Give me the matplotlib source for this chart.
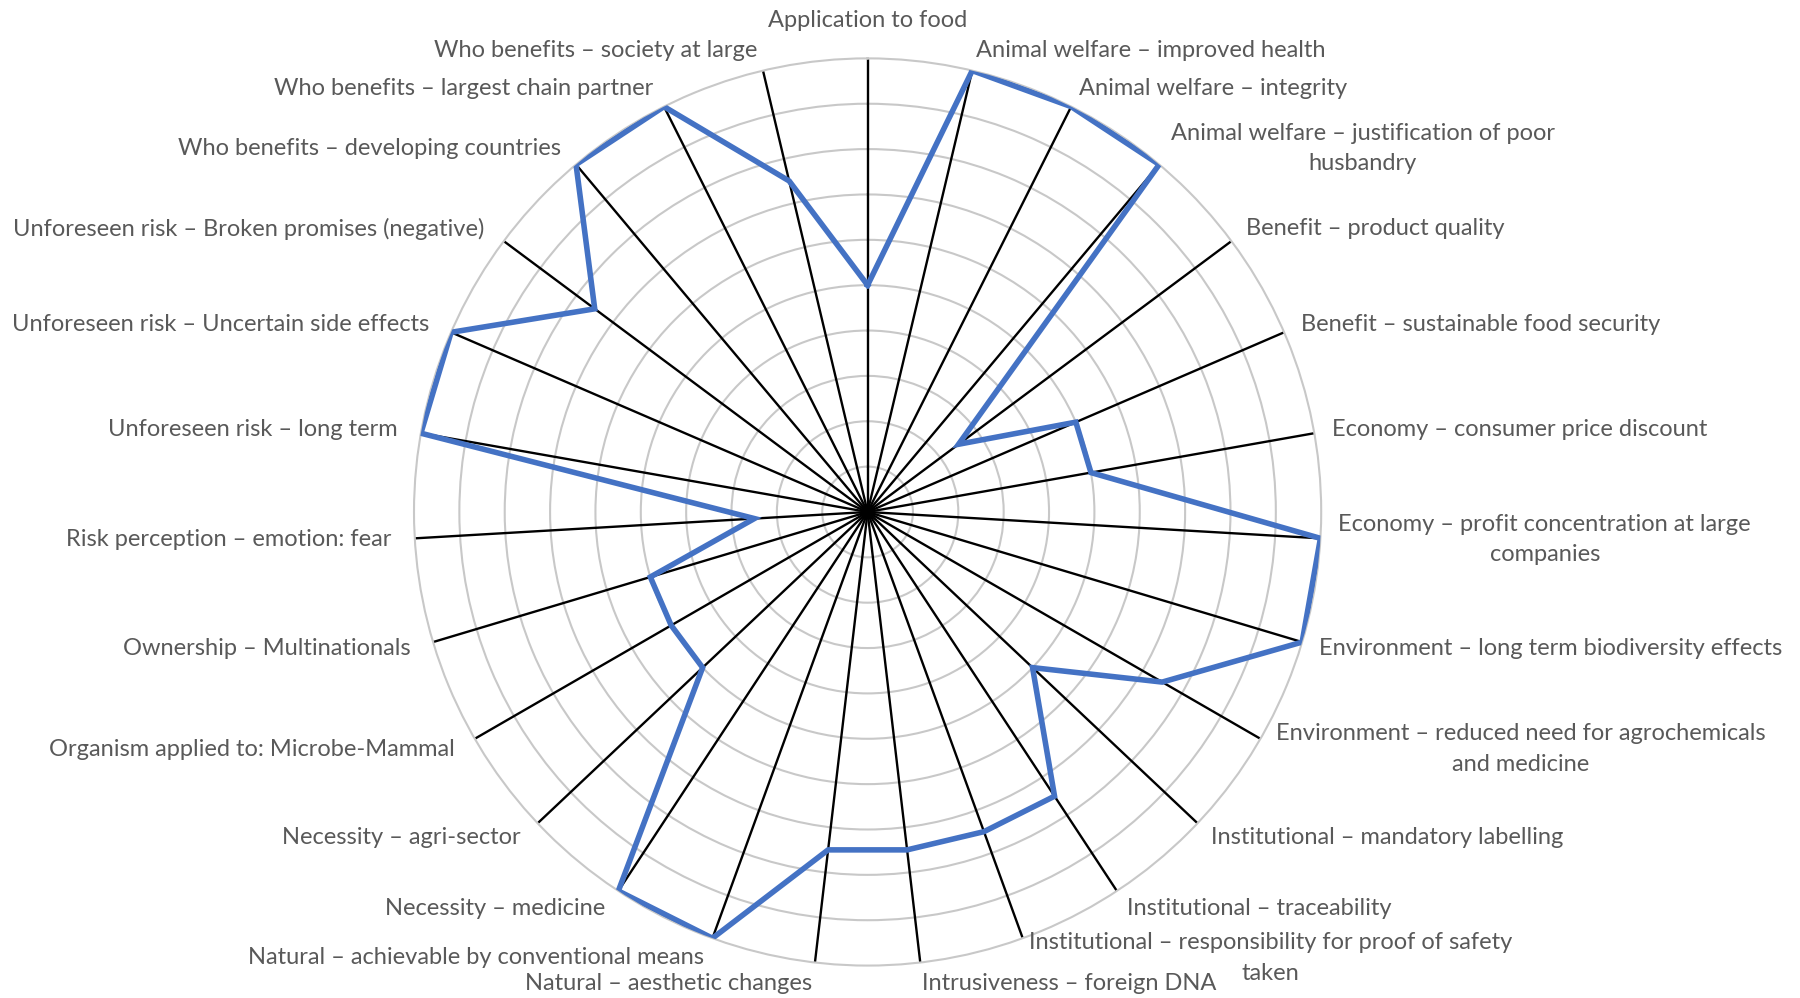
import numpy as np
import matplotlib.pyplot as plt

# -----------------------------
# Data (clockwise from top)
# -----------------------------
categories = [
    "Application to food",
    "Animal welfare \u2013 improved health",
    "Animal welfare \u2013 integrity",
    "Animal welfare \u2013 justification of poor\nhusbandry",
    "Benefit \u2013 product quality",
    "Benefit \u2013 sustainable food security",
    "Economy \u2013 consumer price discount",
    "Economy \u2013 profit concentration at large\ncompanies",
    "Environment \u2013 long term biodiversity effects",
    "Environment \u2013 reduced need for agrochemicals\nand medicine",
    "Institutional \u2013 mandatory labelling",
    "Institutional \u2013 traceability",
    "Institutional \u2013 responsibility for proof of safety\ntaken",
    "Intrusiveness \u2013 foreign DNA",
    "Natural \u2013 aesthetic changes",
    "Natural \u2013 achievable by conventional means",
    "Necessity \u2013 medicine",
    "Necessity \u2013 agri-sector",
    "Organism applied to: Microbe-Mammal",
    "Ownership \u2013 Multinationals",
    "Risk perception \u2013 emotion: fear",
    "Unforeseen risk \u2013 long term",
    "Unforeseen risk \u2013 Uncertain side effects",
    "Unforeseen risk \u2013 Broken promises (negative)",
    "Who benefits \u2013 developing countries",
    "Who benefits \u2013 largest chain partner",
    "Who benefits \u2013 society at large",
]
values = [5, 10, 10, 10, 2.5, 5, 5, 10, 10, 7.5, 5, 7.5, 7.5, 7.5,
          7.5, 10, 10, 5, 5, 5, 2.5, 10, 10, 7.5, 10, 10, 7.5]
r_max = 10

n = len(categories)
angles = np.arange(n) * 2 * np.pi / n

# -----------------------------
# Figure
# -----------------------------
plt.rcParams['font.family'] = ['Lato', 'DejaVu Sans']
fig = plt.figure(figsize=(18, 9.98), dpi=100)
ax = fig.add_axes([0.230, 0.032, 0.504, 0.910], projection='polar')
ax.set_theta_zero_location('N')
ax.set_theta_direction(-1)
ax.set_ylim(0, r_max)

# rings
ax.set_yticks(np.arange(1, r_max))
ax.set_yticklabels([])
ax.yaxis.grid(True, color='#c8c8c8', lw=1.5)
ax.xaxis.grid(False)
ax.set_xticks([])
ax.spines['polar'].set_color('#c8c8c8')
ax.spines['polar'].set_linewidth(1.5)

# spokes
ax.vlines(angles, 0, r_max, colors='black', lw=1.7, zorder=2)

# data polygon
th = np.append(angles, angles[0])
vv = np.append(values, values[0])
ax.plot(th, vv, color='#4472c4', lw=4, zorder=3, solid_joinstyle='miter')

# category labels (each line drawn separately, second line centred under the first)
fs = 17
line_h = fs * 1.3
txt_kw = dict(textcoords='offset points', va='center', fontsize=fs,
              color='#595959', annotation_clip=False)
renderer = fig.canvas.get_renderer()
for ang, lab in zip(angles, categories):
    s, c = np.sin(ang), np.cos(ang)
    if abs(s) < 0.05:
        ha = 'center'
        dx = 0
        dy = 27 if c > 0 else -27
    else:
        ha = 'left' if s > 0 else 'right'
        dx = (13 if s > 0 else 17) * s
        dy = 15 * c
    lines = lab.split('\n')
    if len(lines) == 1:
        ax.annotate(lab, xy=(ang, r_max), xytext=(dx, dy), ha=ha, **txt_kw)
        continue
    t1 = ax.annotate(lines[0], xy=(ang, r_max), xytext=(dx, dy + line_h / 2),
                     ha=ha, **txt_kw)
    bb = t1.get_window_extent(renderer)
    anchor = ax.transData.transform((ang, r_max))
    cx = ((bb.x0 + bb.x1) / 2 - anchor[0]) * 72 / fig.dpi
    ax.annotate(lines[1], xy=(ang, r_max), xytext=(cx, dy - line_h / 2),
                ha='center', **txt_kw)

fig.savefig('out.png', dpi=100, facecolor='white')
